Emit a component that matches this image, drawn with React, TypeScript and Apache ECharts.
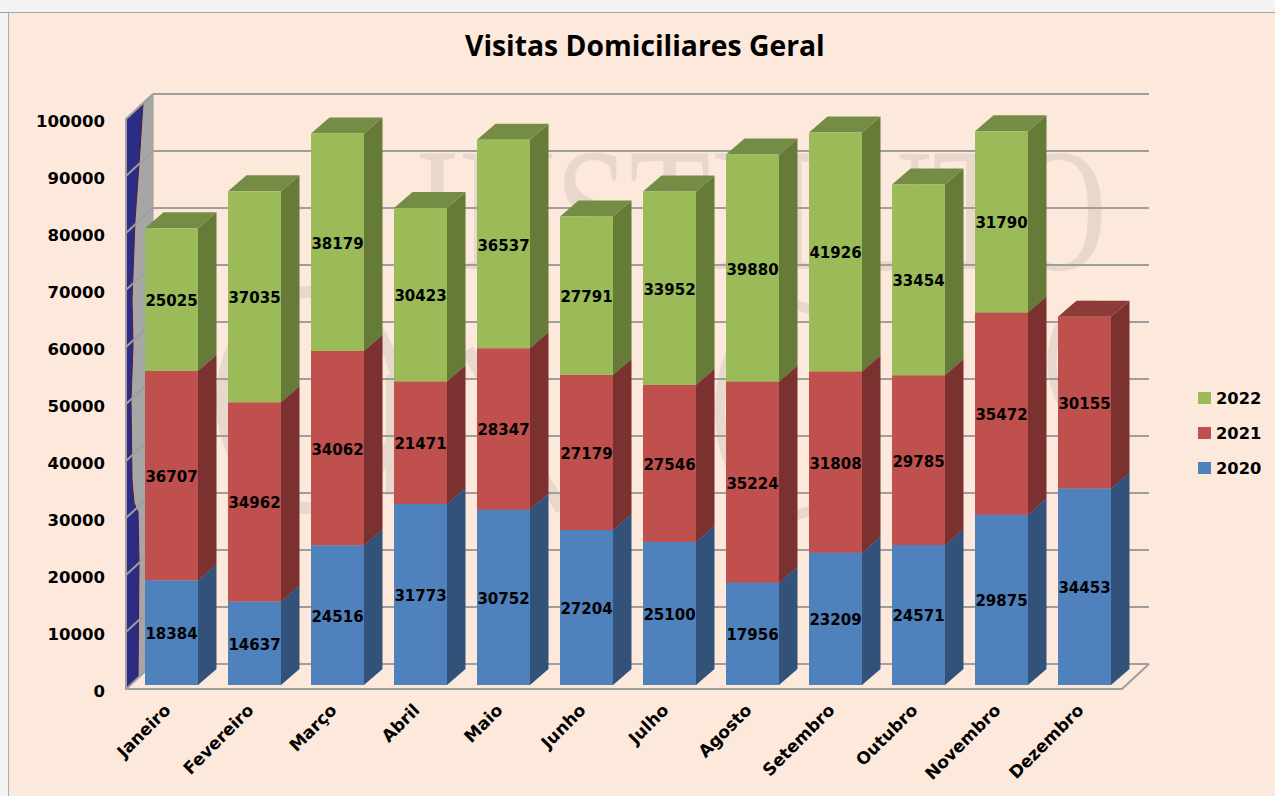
import React, { useEffect, useRef } from "react";
import * as echarts from "echarts";

const categories = ["Janeiro", "Fevereiro", "Março", "Abril", "Maio", "Junho", "Julho", "Agosto", "Setembro", "Outubro", "Novembro", "Dezembro"];
const values2020 = [18384, 14637, 24516, 31773, 30752, 27204, 25100, 17956, 23209, 24571, 29875, 34453];
const values2021 = [36707, 34962, 34062, 21471, 28347, 27179, 27546, 35224, 31808, 29785, 35472, 30155];
const values2022: (number | null)[] = [25025, 37035, 38179, 30423, 36537, 27791, 33952, 39880, 41926, 33454, 31790, null];
const yTicks = [0, 10000, 20000, 30000, 40000, 50000, 60000, 70000, 80000, 90000, 100000];

const FONT = "'Open Sans', sans-serif";
const NUM_FONT = "'DejaVu Sans', sans-serif";
const WATERMARK = "#E8D8CC";
const WALL_DX = 27;
const WALL_DY = -25;
const BAR_OFF = 4;
const BAR_W = 53;
const BAR_DX = 18.5;
const BAR_DY = -16;
const LINE = "#9E9E9E";

function stacked(values: (number | null)[], below: number[]) {
  const out: number[][] = [];
  values.forEach((v, i) => {
    if (v != null) out.push([i, below[i], below[i] + v, v]);
  });
  return out;
}
const base0 = categories.map(() => 0);
const base1 = values2020.slice();
const base2 = values2020.map((v, i) => v + values2021[i]);

function barSeries(name: string, values: (number | null)[], below: number[], front: string, side: string, top: string) {
  return {
    name,
    type: "custom",
    z: 3,
    silent: true,
    itemStyle: { color: front },
    data: stacked(values, below),
    encode: { x: 0, y: [1, 2] },
    renderItem: (_p: any, api: any) => {
      const i = api.value(0);
      const a = api.coord([i, api.value(1)]);
      const b = api.coord([i, api.value(2)]);
      const xl = a[0] + BAR_OFF - BAR_W / 2;
      const xr = xl + BAR_W;
      const y0 = a[1] - BAR_OFF;
      const y1 = b[1] - BAR_OFF;
      return {
        type: "group",
        children: [
          { type: "polygon", shape: { points: [[xr, y1], [xr + BAR_DX, y1 + BAR_DY], [xr + BAR_DX, y0 + BAR_DY], [xr, y0]] }, style: { fill: side } },
          { type: "polygon", shape: { points: [[xl, y1], [xl + BAR_DX, y1 + BAR_DY], [xr + BAR_DX, y1 + BAR_DY], [xr, y1]] }, style: { fill: top } },
          { type: "rect", shape: { x: xl, y: y1, width: BAR_W, height: y0 - y1 }, style: { fill: front } },
          {
            type: "text",
            z2: 10,
            style: {
              x: (xl + xr) / 2,
              y: (y0 + y1) / 2 + 1.5,
              text: String(api.value(3)),
              align: "center",
              verticalAlign: "middle",
              fill: "#000",
              font: `700 15px ${NUM_FONT}`,
            },
          },
        ],
      };
    },
  };
}

const option: any = {
  animation: false,
  backgroundColor: "#F2F3F2",
  title: {
    text: "Visitas Domiciliares Geral",
    left: 465,
    top: 31,
    padding: 0,
    textStyle: { fontFamily: FONT, fontWeight: 700, fontSize: 28.3, color: "#000" },
  },
  legend: {
    orient: "vertical",
    left: 1198,
    top: 390,
    padding: 0,
    data: ["2022", "2021", "2020"],
    icon: "rect",
    itemWidth: 13,
    itemHeight: 12,
    itemGap: 19,
    selectedMode: false,
    textStyle: { fontFamily: NUM_FONT, fontWeight: 700, fontSize: 16.3, color: "#000" },
  },
  grid: { left: 126, top: 119, width: 996, height: 570, containLabel: false },
  xAxis: {
    type: "category",
    data: categories,
    axisLine: { show: true, lineStyle: { color: LINE, width: 2 } },
    axisTick: { show: false },
    axisLabel: { interval: 0, rotate: 45, margin: 18, fontFamily: NUM_FONT, fontWeight: 700, fontSize: 17, color: "#000" },
    splitLine: { show: false },
  },
  yAxis: {
    type: "value",
    min: 0,
    max: 100000,
    interval: 10000,
    axisLine: { show: true, lineStyle: { color: LINE, width: 2 } },
    axisTick: { show: false },
    axisLabel: {
      margin: 21,
      color: "#000",
      formatter: (v: number) => `{n|${v}}`,
      rich: { n: { padding: [4, 0, 0, 0], fontFamily: NUM_FONT, fontWeight: 700, fontSize: 16.5, color: "#000" } },
    },
    splitLine: { show: false },
  },
  graphic: [
    { type: "rect", z: -10, shape: { x: 9, y: 13, width: 1266, height: 783 }, style: { fill: "#FDE9DB" } },
    { type: "line", z: -9, shape: { x1: 0, y1: 12.5, x2: 1275, y2: 12.5 }, style: { stroke: "#9FA3A3", lineWidth: 1 } },
    { type: "line", z: -9, shape: { x1: 8.5, y1: 13, x2: 8.5, y2: 796 }, style: { stroke: "#9DB0AA", lineWidth: 1 } },
    {
      type: "text",
      z: -8,
      x: 415,
      y: 122,
      scaleY: 1.32,
      style: { text: "INSTITUTO", fill: WATERMARK, font: "133px 'Liberation Serif', serif", verticalAlign: "top" },
    },
    { type: "ellipse", z: -8, shape: { cx: 310, cy: 400, rx: 88, ry: 108 }, style: { fill: "none", stroke: WATERMARK, lineWidth: 12 } },
    { type: "line", z: -8, shape: { x1: 467, y1: 350, x2: 562, y2: 510 }, style: { stroke: WATERMARK, lineWidth: 13 } },
    { type: "line", z: -8, shape: { x1: 390, y1: 375, x2: 390, y2: 495 }, style: { stroke: WATERMARK, lineWidth: 8 } },
    { type: "ellipse", z: -8, shape: { cx: 790, cy: 410, rx: 70, ry: 105 }, style: { fill: "none", stroke: WATERMARK, lineWidth: 10 } },
    { type: "ellipse", z: -8, shape: { cx: 1088, cy: 362, rx: 36, ry: 58 }, style: { fill: "none", stroke: WATERMARK, lineWidth: 9 } },
    {
      type: "polygon",
      z: -7,
      shape: { points: [[126, 119], [153, 94], [153, 664], [126, 689]] },
      style: { fill: "#A6A6A6", stroke: LINE, lineWidth: 1 },
    },
    {
      type: "polygon",
      z: -6,
      shape: {
        points: [[126, 119], [143, 103], [140, 150], [135, 220], [132, 300], [133, 345], [131, 400], [132, 480], [134, 503], [138, 512], [139, 560], [138, 678], [126, 689]],
      },
      style: { fill: "#2B2D84", stroke: "#5A1538", lineWidth: 1 },
    },
  ],
  series: [
    {
      type: "custom",
      z: 2,
      silent: true,
      data: yTicks.map((v) => [v]),
      encode: { y: 0 },
      renderItem: (_p: any, api: any) => {
        const v = api.value(0);
        const l = api.coord([0, v]);
        const leftX = l[0] - api.size([1, 0])[0] / 2;
        const rightX = leftX + api.size([1, 0])[0] * categories.length;
        const style = { stroke: LINE, lineWidth: 2 };
        const children: any[] = [
          { type: "line", shape: { x1: leftX, y1: l[1], x2: leftX + WALL_DX, y2: l[1] + WALL_DY }, style },
          { type: "line", shape: { x1: leftX + WALL_DX, y1: l[1] + WALL_DY, x2: rightX + WALL_DX, y2: l[1] + WALL_DY }, style },
        ];
        if (v === 0) {
          children.push({ type: "line", shape: { x1: rightX, y1: l[1], x2: rightX + WALL_DX, y2: l[1] + WALL_DY }, style });
        }
        return { type: "group", children };
      },
    },
    barSeries("2020", values2020, base0, "#4F81BD", "#32527A", "#3F6797"),
    barSeries("2021", values2021, base1, "#C0504D", "#7B3130", "#8C3B39"),
    barSeries("2022", values2022, base2, "#9BBB59", "#677B38", "#758C44"),
  ],
};

export default function App() {
  const ref = useRef<HTMLDivElement>(null);
  useEffect(() => {
    const chart = echarts.init(ref.current!, undefined, { renderer: "svg" });
    chart.setOption(option);
    return () => chart.dispose();
  }, []);
  return <div ref={ref} style={{ position: "fixed", left: 0, top: 0, width: 1275, height: 796 }} />;
}
